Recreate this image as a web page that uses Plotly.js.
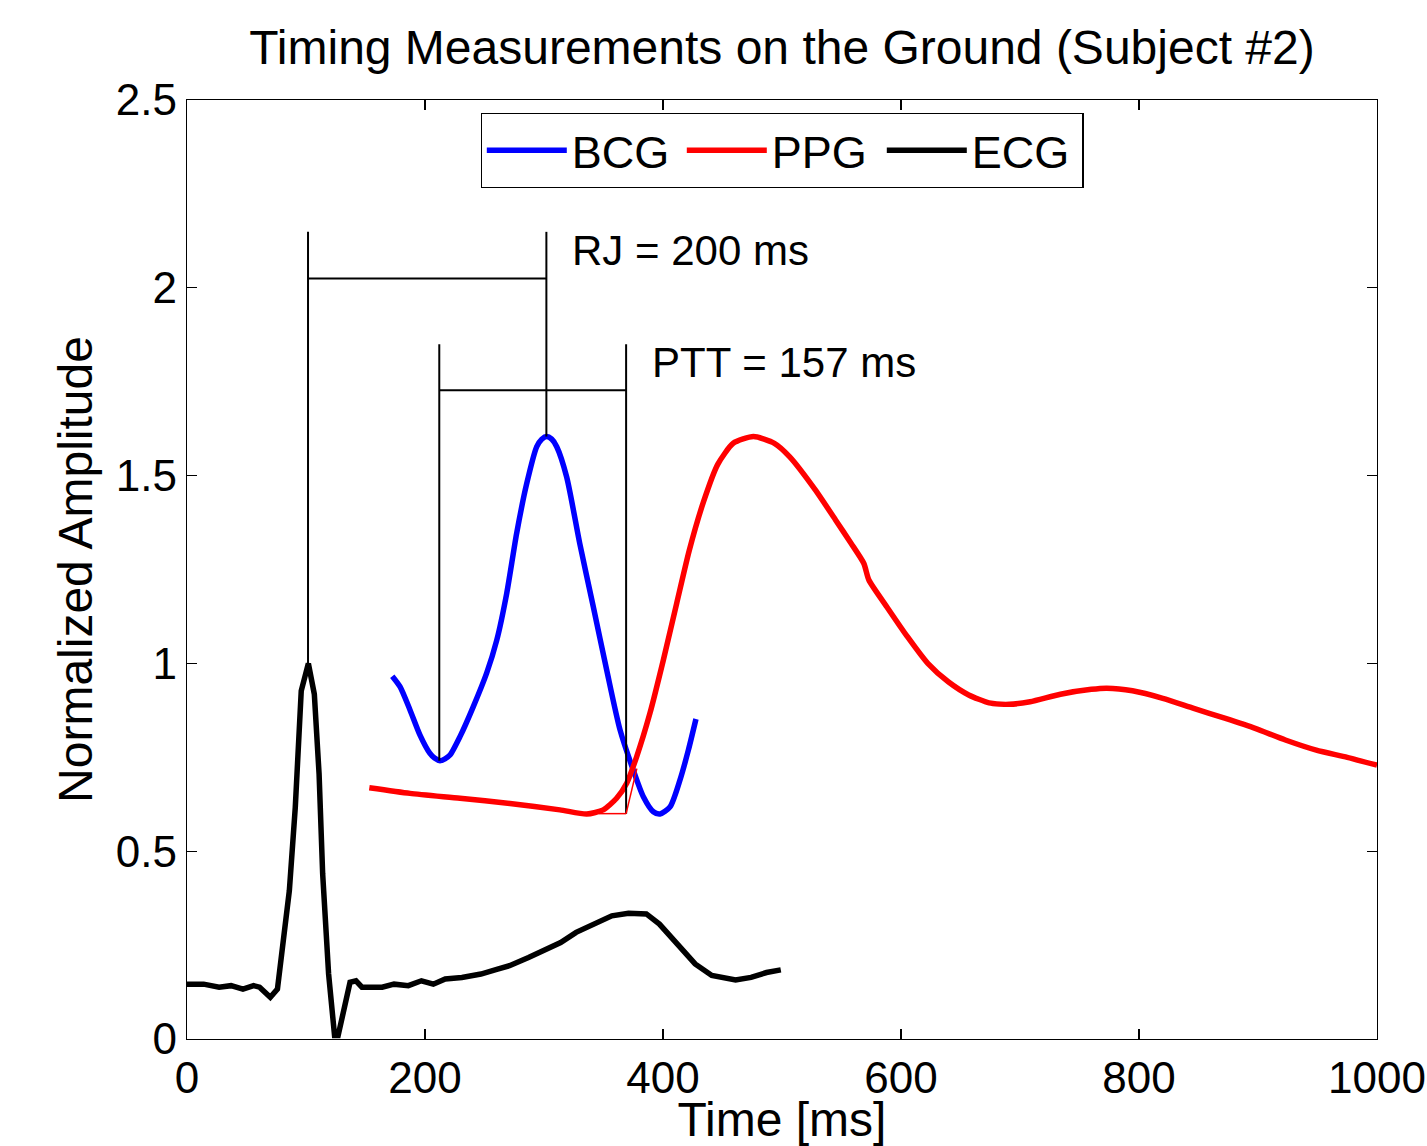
<!DOCTYPE html>
<html>
<head>
<meta charset="utf-8">
<script src="https://cdn.plot.ly/plotly-3.0.1.min.js"></script>
<style>html,body{margin:0;padding:0;background:#fff;}#chart{width:1427px;height:1146px;}</style>
</head>
<body>
<div id="chart"></div>
<script>
// ---- data ----
const ecgTime = [0, 14, 27, 37, 47, 56, 61, 70, 76, 81, 86, 91, 96, 102, 107, 111, 114, 119, 124, 127, 132, 137, 142, 147, 164, 174, 186, 197, 207, 217, 231, 247, 261, 271, 287, 304, 314, 327, 341, 357, 371, 386, 397, 414, 427, 441, 461, 474, 487, 499];
const ecgAmp  = [0.146, 0.146, 0.138, 0.142, 0.133, 0.142, 0.138, 0.111, 0.133, 0.262, 0.395, 0.617, 0.927, 1.0, 0.918, 0.705, 0.44, 0.173, 0.009, 0.009, 0.084, 0.151, 0.155, 0.138, 0.138, 0.146, 0.142, 0.155, 0.146, 0.160, 0.164, 0.173, 0.186, 0.195, 0.217, 0.244, 0.257, 0.284, 0.306, 0.328, 0.335, 0.333, 0.306, 0.244, 0.200, 0.169, 0.157, 0.164, 0.177, 0.184];

const bcgTime = [172.5, 179, 187.4, 195.8, 204, 208, 212.6, 216.8, 221, 229.4, 240.6, 251.8, 260.3, 268.7, 277, 285.5, 293.9, 298.1, 302.3, 306.5, 310.7, 319, 330, 341.4, 352.7, 363.9, 375, 383.5, 391.9, 397.5, 405.9, 414.3, 421.3, 427.7];
const bcgAmp  = [0.966, 0.938, 0.876, 0.809, 0.761, 0.748, 0.741, 0.746, 0.756, 0.805, 0.885, 0.974, 1.062, 1.187, 1.346, 1.479, 1.577, 1.597, 1.604, 1.597, 1.577, 1.497, 1.320, 1.151, 0.982, 0.823, 0.716, 0.645, 0.605, 0.599, 0.618, 0.690, 0.769, 0.852];

const ppgTime = [153.2, 187.4, 229.4, 271.4, 313.4, 335.9, 349.8, 361, 369.5, 377.9, 389, 400.3, 411.5, 422, 434, 446, 459, 476, 493.6, 506.5, 528, 545, 558, 568.8, 573, 588, 605.4, 622.5, 639.7, 656.9, 674, 691, 708.5, 734, 760, 773, 794.5, 820, 846, 872, 897.6, 923, 949, 975, 1000];
const ppgAmp  = [0.669, 0.654, 0.641, 0.627, 0.610, 0.599, 0.610, 0.641, 0.681, 0.752, 0.867, 1.009, 1.160, 1.300, 1.430, 1.530, 1.586, 1.604, 1.586, 1.550, 1.462, 1.382, 1.320, 1.266, 1.222, 1.151, 1.071, 1.000, 0.951, 0.916, 0.895, 0.891, 0.898, 0.918, 0.931, 0.934, 0.927, 0.907, 0.880, 0.854, 0.827, 0.796, 0.769, 0.750, 0.729];

// timing markers: R peak, J peak, BCG foot (I), PPG foot
const markerTimes = [101.7, 302, 212, 369];
const markerBaseAmp = [1.0, 1.604, 0.741, 0.600];
const markerTopAmp = [2.149, 2.149, 1.850, 1.850];
const bracketAmp = [2.025, 1.727];
const tangentTime = [346, 369, 378];
const tangentAmp = [0.600, 0.600, 0.720];
const labelText = ["RJ = 200 ms", "PTT = 157 ms"];
const labelTime = [322, 389];
const labelAmp = [2.10, 1.80];

const FONT = "Liberation Sans, Arial, Helvetica, sans-serif";

const traces = [
  {x: bcgTime, y: bcgAmp, name: "BCG", mode: "lines", line: {color: "#0000ff", width: 5.5, shape: "spline", smoothing: 0.7}},
  {x: ppgTime, y: ppgAmp, name: "PPG", mode: "lines", line: {color: "#ff0000", width: 5.5, shape: "spline", smoothing: 0.6}},
  {x: ecgTime, y: ecgAmp, name: "ECG", mode: "lines", line: {color: "#000000", width: 5.5}}
];

const shapes = [];
for (let i = 0; i < markerTimes.length; i++) {
  shapes.push({type: "line", xref: "x", yref: "y", x0: markerTimes[i], x1: markerTimes[i], y0: markerBaseAmp[i], y1: markerTopAmp[i], line: {color: "#000", width: 2}});
}
shapes.push({type: "line", xref: "x", yref: "y", x0: markerTimes[0], x1: markerTimes[1], y0: bracketAmp[0], y1: bracketAmp[0], line: {color: "#000", width: 2}});
shapes.push({type: "line", xref: "x", yref: "y", x0: markerTimes[2], x1: markerTimes[3], y0: bracketAmp[1], y1: bracketAmp[1], line: {color: "#000", width: 2}});
for (let i = 0; i < tangentTime.length - 1; i++) {
  shapes.push({type: "line", xref: "x", yref: "y", x0: tangentTime[i], x1: tangentTime[i + 1], y0: tangentAmp[i], y1: tangentAmp[i + 1], line: {color: "#ff0000", width: 1.5}});
}

const annotations = labelText.map((t, i) => ({
  text: t, x: labelTime[i], y: labelAmp[i], xref: "x", yref: "y",
  xanchor: "left", yanchor: "middle", showarrow: false,
  font: {family: FONT, size: 42, color: "#000"}
}));

const axisCommon = {
  showgrid: false, zeroline: false, showline: true, linecolor: "#000", linewidth: 1.3,
  mirror: "ticks", ticks: "inside", ticklen: 10, tickwidth: 1.3, tickcolor: "#000",
  tickfont: {family: FONT, size: 44, color: "#000"}
};

const layout = {
  width: 1427, height: 1146,
  margin: {l: 187, r: 50, t: 100, b: 107, pad: 0},
  paper_bgcolor: "#fff", plot_bgcolor: "#fff",
  font: {family: FONT, color: "#000"},
  title: {text: "Timing Measurements on the Ground (Subject #2)", font: {family: FONT, size: 48, color: "#000"},
          x: 0.548, xref: "container", xanchor: "center", y: 0.959, yref: "container", yanchor: "middle"},
  xaxis: Object.assign({}, axisCommon, {range: [0, 1000], tickvals: [0, 200, 400, 600, 800, 1000],
          title: {text: "Time [ms]", font: {family: FONT, size: 48, color: "#000"}, standoff: 4}}),
  yaxis: Object.assign({}, axisCommon, {range: [0, 2.5], tickvals: [0, 0.5, 1, 1.5, 2, 2.5],
          title: {text: "Normalized Amplitude", font: {family: FONT, size: 48, color: "#000"}, standoff: 8}}),
  showlegend: true,
  legend: {orientation: "h", x: 0.5, xanchor: "center", y: 0.986, yanchor: "top",
           bgcolor: "#fff", bordercolor: "#000", borderwidth: 1.3,
           font: {family: FONT, size: 45, color: "#000"}, itemwidth: 80, entrywidth: 105},
  shapes: shapes,
  annotations: annotations
};

Plotly.newPlot("chart", traces, layout, {displayModeBar: false, staticPlot: true});
</script>
</body>
</html>
